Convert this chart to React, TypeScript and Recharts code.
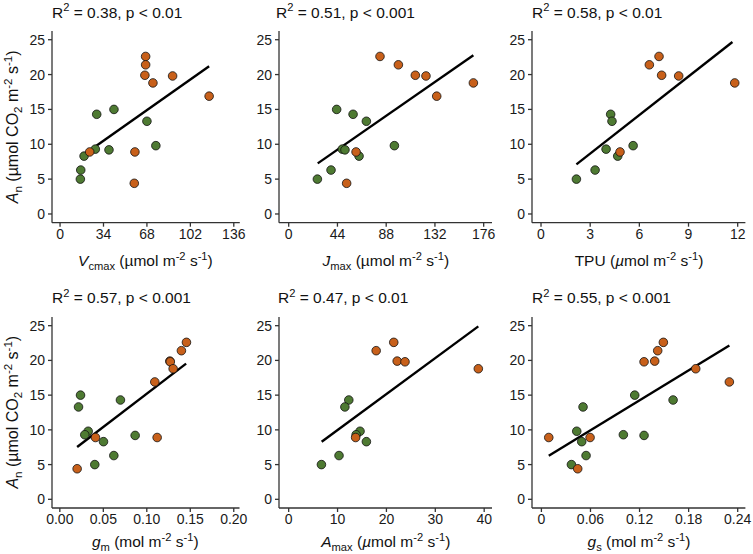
import { Scatter, ScatterChart, XAxis, YAxis } from 'recharts';

// Net assimilation (An) for the two groups, shared by every panel
const anOrange = [22.6, 21.4, 19.9, 19.8, 18.8, 16.9, 8.9, 8.9, 4.4];
const anGreen = [15.0, 14.3, 13.3, 9.8, 9.3, 9.2, 8.3, 6.3, 5.0];

// Predictor values, same order as the An arrays (null = not measured)
const vcmaxOrange = [67.0, 67.0, 66.4, 88.1, 72.7, 116.7, 23.2, 58.6, 58.1];
const vcmaxGreen = [42.2, 28.7, 68.0, 75.0, 27.6, 38.3, 18.8, 16.2, 15.9];

const jmaxOrange = [82.4, 99.0, 114.3, 123.9, 166.7, 133.6, 60.8, null, 52.3];
const jmaxGreen = [43.3, 58.1, 70.1, 95.4, 48.4, 50.8, 63.5, 38.2, 25.9];

const tpuOrange = [7.2, 6.61, 7.36, 8.4, 11.82, null, 4.82, null, null];
const tpuGreen = [null, 4.25, 4.33, 5.62, 3.97, null, 4.68, 3.3, 2.16];

const gmOrange = [0.1456, 0.1398, 0.1265, 0.127, 0.1303, 0.1092, 0.041, 0.1119, 0.0199];
const gmGreen = [0.0238, 0.0697, 0.0215, 0.0326, 0.0287, 0.0866, 0.0502, 0.0621, 0.0402];

const amaxOrange = [21.5, 17.9, 22.2, 23.8, 38.8, null, 13.7, null, null];
const amaxGreen = [null, 12.3, 11.5, 14.6, 13.8, null, 15.9, 10.3, 6.7];

const gsOrange = [0.1491, 0.1422, 0.1385, 0.1255, 0.1887, 0.2298, 0.009, 0.0595, 0.0444];
const gsGreen = [0.1141, 0.161, 0.0509, 0.0432, 0.1002, 0.1255, 0.0493, 0.0546, 0.0367];

// Fitted regression lines: end points [x1, x2] and [y1, y2]
const fitVcmax = { x: [27.9, 116.7], y: [9.72, 21.2] };
const fitJmax = { x: [26.2, 166.7], y: [7.26, 22.77] };
const fitTpu = { x: [2.16, 11.68], y: [7.12, 24.67] };
const fitGm = { x: [0.0199, 0.1452], y: [7.54, 19.54] };
const fitAmax = { x: [6.75, 38.8], y: [8.3, 24.9] };
const fitGs = { x: [0.009, 0.2298], y: [6.26, 22.15] };

const statR2 = ['0.38', '0.51', '0.58', '0.57', '0.47', '0.55'];
const statP = ['0.01', '0.001', '0.01', '0.001', '0.01', '0.001'];

const ticksVcmax = [0, 34, 68, 102, 136];
const ticksJmax = [0, 44, 88, 132, 176];
const ticksTpu = [0, 3, 6, 9, 12];
const ticksGm = [0, 0.05, 0.1, 0.15, 0.2];
const ticksAmax = [0, 10, 20, 30, 40];
const ticksGs = [0, 0.06, 0.12, 0.18, 0.24];
const ticksAn = [0, 5, 10, 15, 20, 25];

const FONT = '"Liberation Sans", Arial, Helvetica, sans-serif';
const ORANGE = '#c8601a';
const GREEN = '#4e7a32';
const AXIS = '#333333';

type Part = { t: string; i?: boolean; sub?: boolean; sup?: boolean };

const unitTail = (mol: Part[]): Part[] => [
  ...mol,
  { t: ' m' },
  { t: '-2', sup: true },
  { t: ' s' },
  { t: '-1', sup: true },
  { t: ')' },
];

const pair = (xs: (number | null)[], ys: number[]) =>
  xs.map((x, k) => ({ x, y: ys[k] })).filter((d) => d.x !== null);

const fitLine = (f: { x: number[]; y: number[] }) => f.x.map((x, k) => ({ x, y: f.y[k] }));

const fmt2 = (v: number) => v.toFixed(2);
const fmtGs = (v: number) => (v === 0 ? '0' : v.toFixed(2));

const panels = [
  {
    frame: { left: 51.5, top: 31, right: 239.3, bottom: 222.7 },
    titleX: 52,
    labelDy: 43,
    domain: [-6.3, 140.7],
    ticks: ticksVcmax,
    orange: pair(vcmaxOrange, anOrange),
    green: pair(vcmaxGreen, anGreen),
    fit: fitLine(fitVcmax),
    label: unitTail([{ t: 'V', i: true }, { t: 'cmax', sub: true }, { t: ' (µmol' }]),
    fmt: undefined as undefined | ((v: number) => string),
  },
  {
    frame: { left: 279.3, top: 31, right: 492.3, bottom: 222.7 },
    titleX: 276,
    labelDy: 43,
    domain: [-8.75, 183.5],
    ticks: ticksJmax,
    orange: pair(jmaxOrange, anOrange),
    green: pair(jmaxGreen, anGreen),
    fit: fitLine(fitJmax),
    label: unitTail([{ t: 'J', i: true }, { t: 'max', sub: true }, { t: ' (µmol' }]),
    fmt: undefined,
  },
  {
    frame: { left: 532.3, top: 31, right: 745.7, bottom: 222.7 },
    titleX: 532,
    labelDy: 43,
    domain: [-0.55, 12.47],
    ticks: ticksTpu,
    orange: pair(tpuOrange, anOrange),
    green: pair(tpuGreen, anGreen),
    fit: fitLine(fitTpu),
    label: unitTail([{ t: 'TPU (' }, { t: 'µ', i: true }, { t: 'mol' }]),
    fmt: undefined,
  },
  {
    frame: { left: 51.5, top: 316.7, right: 239, bottom: 507.7 },
    titleX: 52,
    labelDy: 39.5,
    domain: [-0.009, 0.2066],
    ticks: ticksGm,
    orange: pair(gmOrange, anOrange),
    green: pair(gmGreen, anGreen),
    fit: fitLine(fitGm),
    label: unitTail([{ t: 'g', i: true }, { t: 'm', sub: true }, { t: ' (mol' }]),
    fmt: fmt2,
  },
  {
    frame: { left: 279.3, top: 316.7, right: 492.3, bottom: 507.7 },
    titleX: 278,
    labelDy: 39.5,
    domain: [-1.98, 41.6],
    ticks: ticksAmax,
    orange: pair(amaxOrange, anOrange),
    green: pair(amaxGreen, anGreen),
    fit: fitLine(fitAmax),
    label: unitTail([{ t: 'A', i: true }, { t: 'max', sub: true }, { t: ' (' }, { t: 'µ', i: true }, { t: 'mol' }]),
    fmt: undefined,
  },
  {
    frame: { left: 532.3, top: 316.7, right: 745.7, bottom: 507.7 },
    titleX: 532,
    labelDy: 39.5,
    domain: [-0.0115, 0.2494],
    ticks: ticksGs,
    orange: pair(gsOrange, anOrange),
    green: pair(gsGreen, anGreen),
    fit: fitLine(fitGs),
    label: unitTail([{ t: 'g', i: true }, { t: 's', sub: true }, { t: ' (mol' }]),
    fmt: fmtGs,
  },
];

const yLabel: Part[] = [
  { t: 'A', i: true },
  { t: 'n', sub: true },
  { t: ' (µmol CO' },
  { t: '2', sub: true },
  { t: ' m' },
  { t: '-2', sup: true },
  { t: ' s' },
  { t: '-1', sup: true },
  { t: ')' },
];

const Rich = ({
  x,
  y,
  parts,
  size,
  anchor = 'start',
  rotate = false,
}: {
  x: number;
  y: number;
  parts: Part[];
  size: number;
  anchor?: 'start' | 'middle';
  rotate?: boolean;
}) => {
  let shift = 0;
  return (
    <text
      x={x}
      y={y}
      fontSize={size}
      fontFamily={FONT}
      fill="#111"
      textAnchor={anchor}
      style={{ whiteSpace: 'pre' }}
      transform={rotate ? `rotate(-90, ${x}, ${y})` : undefined}
    >
      {parts.map((p, k) => {
        const target = p.sup ? -0.4 * size : p.sub ? 0.25 * size : 0;
        const dy = target - shift;
        shift = target;
        return (
          <tspan
            key={k}
            dy={dy}
            fontSize={p.sup || p.sub ? size * 0.72 : size}
            fontStyle={p.i ? 'italic' : 'normal'}
          >
            {p.t}
          </tspan>
        );
      })}
    </text>
  );
};

const Dot = (fill: string) => (props: any) =>
  <circle cx={props.cx} cy={props.cy} r={4.3} fill={fill} stroke="#111" strokeWidth={0.8} />;

const NoDot = () => <g />;

const Y_AXIS_W = 30;
const X_AXIS_H = 25;
const PAD = 5;
const PAD_RIGHT = 16;

const Panel = ({ p }: { p: (typeof panels)[number] }) => {
  const { frame } = p;
  const w = frame.right - frame.left + Y_AXIS_W + PAD_RIGHT;
  const h = frame.bottom - frame.top + X_AXIS_H + PAD;
  const tickStyle = { fontSize: 14, fill: '#1a1a1a', fontFamily: FONT };
  return (
    <div style={{ position: 'absolute', left: frame.left - Y_AXIS_W, top: frame.top - PAD }}>
      <ScatterChart width={w} height={h} margin={{ top: PAD, right: PAD_RIGHT, bottom: 0, left: 0 }}>
        <XAxis
          type="number"
          dataKey="x"
          domain={p.domain}
          ticks={p.ticks}
          interval={0}
          height={X_AXIS_H}
          tickSize={4}
          tickMargin={2}
          tick={tickStyle}
          tickFormatter={p.fmt}
          stroke={AXIS}
          strokeWidth={1.3}
        />
        <XAxis xAxisId="top" orientation="top" type="number" domain={p.domain} height={0} tick={false} tickLine={false} stroke={AXIS} strokeWidth={1.3} />
        <YAxis
          type="number"
          dataKey="y"
          domain={[-1.25, 26.25]}
          ticks={ticksAn}
          interval={0}
          width={Y_AXIS_W}
          tickSize={4}
          tickMargin={3}
          tick={tickStyle}
          stroke={AXIS}
          strokeWidth={1.3}
        />
        <YAxis yAxisId="right" orientation="right" type="number" domain={[-1.25, 26.25]} width={0} tick={false} tickLine={false} stroke={AXIS} strokeWidth={1.3} />
        <Scatter data={p.fit} line={{ stroke: '#000', strokeWidth: 2.4 }} shape={NoDot} isAnimationActive={false} />
        <Scatter data={p.green} shape={Dot(GREEN)} isAnimationActive={false} />
        <Scatter data={p.orange} shape={Dot(ORANGE)} isAnimationActive={false} />
      </ScatterChart>
    </div>
  );
};

export default function App() {
  return (
    <div style={{ position: 'absolute', left: 0, top: 0, width: 753, height: 554, background: '#fff', fontFamily: FONT }}>
      {panels.map((p, k) => (
        <Panel key={k} p={p} />
      ))}
      <svg width={753} height={554} style={{ position: 'absolute', left: 0, top: 0, pointerEvents: 'none' }}>
        {panels.map((p, k) => (
          <g key={k}>
            <Rich
              x={p.titleX}
              y={p.frame.top - 13.5}
              size={15.5}
              parts={[{ t: 'R' }, { t: '2', sup: true }, { t: ` = ${statR2[k]}, p < ${statP[k]}` }]}
            />
            <Rich
              x={(p.frame.left + p.frame.right) / 2}
              y={p.frame.bottom + p.labelDy}
              size={15.5}
              anchor="middle"
              parts={p.label}
            />
          </g>
        ))}
        <Rich x={18} y={(31 + 222.7) / 2} size={16} anchor="middle" rotate parts={yLabel} />
        <Rich x={18} y={(316.7 + 507.7) / 2} size={16} anchor="middle" rotate parts={yLabel} />
      </svg>
    </div>
  );
}
